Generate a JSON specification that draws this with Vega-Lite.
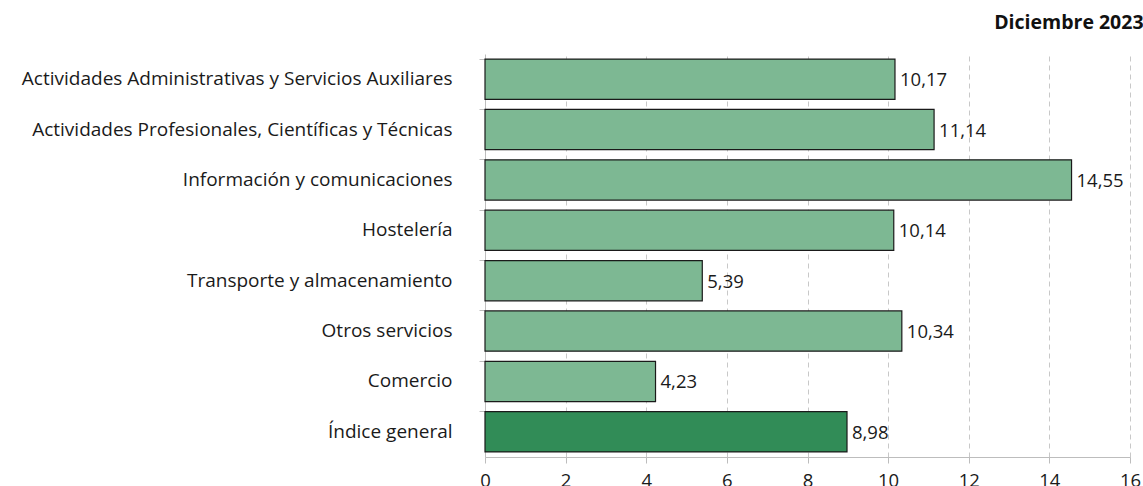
{
  "$schema": "https://vega.github.io/schema/vega-lite/v6.json",
  "width": 645,
  "height": 403,
  "autosize": {"type": "none"},
  "padding": {"left": 485, "top": 54, "right": 13, "bottom": 29},
  "background": "white",
  "title": {
    "text": "Diciembre 2023",
    "anchor": "end",
    "orient": "top",
    "offset": 21,
    "fontSize": 19.5,
    "fontWeight": "bold",
    "font": "Open Sans",
    "color": "#111111",
    "dx": 3
  },
  "data": {
    "values": [
      {"sector": "Actividades Administrativas y Servicios Auxiliares", "valor": 10.17, "tipo": "sector"},
      {"sector": "Actividades Profesionales, Científicas y Técnicas", "valor": 11.14, "tipo": "sector"},
      {"sector": "Información y comunicaciones", "valor": 14.55, "tipo": "sector"},
      {"sector": "Hostelería", "valor": 10.14, "tipo": "sector"},
      {"sector": "Transporte y almacenamiento", "valor": 5.39, "tipo": "sector"},
      {"sector": "Otros servicios", "valor": 10.34, "tipo": "sector"},
      {"sector": "Comercio", "valor": 4.23, "tipo": "sector"},
      {"sector": "Índice general", "valor": 8.98, "tipo": "general"}
    ]
  },
  "encoding": {
    "y": {
      "field": "sector",
      "type": "nominal",
      "sort": null,
      "scale": {"paddingInner": 0.2, "paddingOuter": 0.1},
      "axis": {
        "title": null,
        "labelFont": "Open Sans",
        "labelFontSize": 19,
        "labelColor": "#1a1a1a",
        "labelPadding": 27,
        "domainColor": "#bdbdbd",
        "tickColor": "#bdbdbd",
        "tickSize": 6,
        "bandPosition": 0,
        "labelLimit": 480
      }
    },
    "x": {
      "field": "valor",
      "type": "quantitative",
      "scale": {"domain": [0, 16], "nice": false},
      "axis": {
        "title": null,
        "values": [0, 2, 4, 6, 8, 10, 12, 14, 16],
        "labelFont": "Open Sans",
        "labelFontSize": 18.5,
        "labelColor": "#1a1a1a",
        "labelPadding": 8,
        "domainColor": "#bdbdbd",
        "tickColor": "#bdbdbd",
        "tickSize": 6,
        "grid": true,
        "gridColor": "#c8c8c8",
        "gridDash": [5, 4],
        "gridWidth": 1,
        "labelFlush": false
      }
    }
  },
  "layer": [
    {
      "mark": {"type": "bar", "stroke": "#1a1a1a", "strokeWidth": 1.2},
      "encoding": {
        "color": {
          "field": "tipo",
          "type": "nominal",
          "scale": {"domain": ["sector", "general"], "range": ["#7db893", "#318c57"]},
          "legend": null
        }
      }
    },
    {
      "mark": {"type": "text", "align": "left", "dx": 5, "dy": 1, "font": "Open Sans", "fontSize": 18.5, "color": "#1a1a1a"},
      "encoding": {
        "text": {"field": "valor", "type": "quantitative", "format": ".2f"}
      }
    }
  ],
  "config": {
    "view": {"stroke": null},
    "locale": {
      "number": {"decimal": ",", "thousands": ".", "grouping": [3], "currency": ["", " €"]}
    }
  }
}
